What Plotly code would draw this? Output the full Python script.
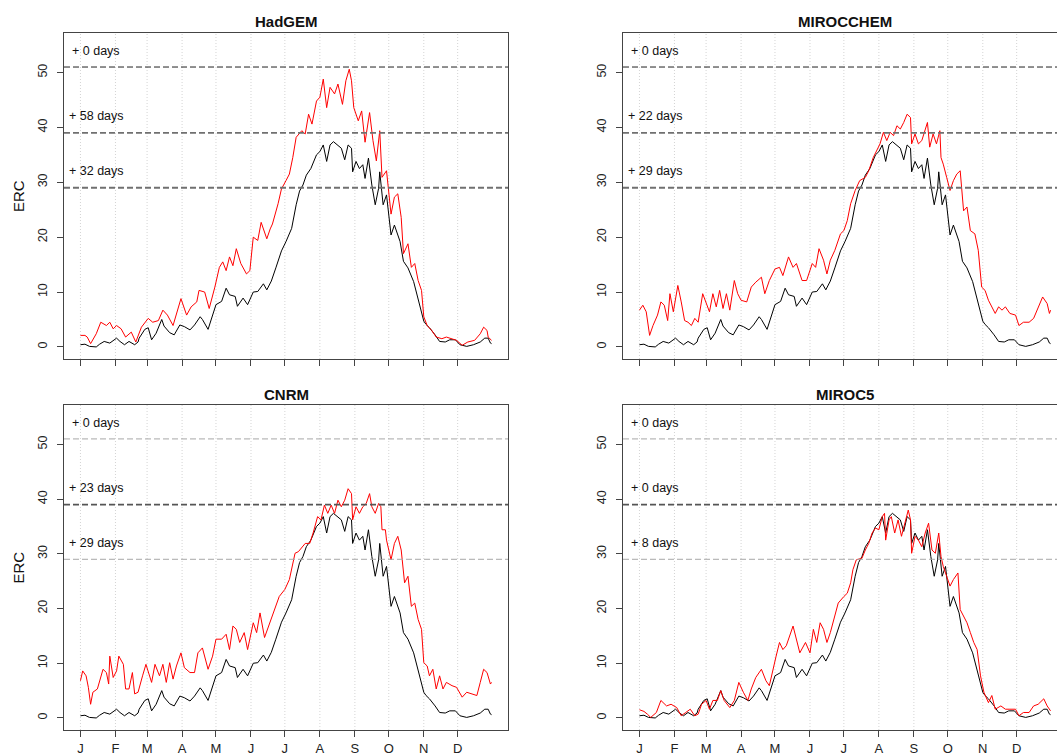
import plotly.graph_objects as go

# ---------------- data ----------------
month_labels = ["J", "F", "M", "A", "M", "J", "J", "A", "S", "O", "N", "D"]
month_start_days = [1, 32, 60, 91, 121, 152, 182, 213, 244, 274, 305, 335]
erc_ticks = [0, 10, 20, 30, 40, 50]
thresholds = [51, 39, 29]

# observed (historical) ERC, shared by all panels
obs_days = [1, 5, 9, 15, 18, 22, 27, 30, 33, 36, 40, 44, 49, 52, 53, 58, 61, 64, 68, 73,
            75, 80, 84, 89, 93, 98, 102, 107, 109, 114, 118, 121, 126, 130, 133, 138, 140, 145, 149, 154,
            158, 163, 166, 170, 174, 179, 183, 188, 192, 195, 198, 201, 205, 210, 213, 216, 219, 222, 225, 229,
            232, 235, 238, 241, 242, 245, 248, 251, 253, 256, 259, 262, 265, 266, 269, 272, 274, 276, 279, 284,
            287, 291, 296, 299, 302, 305, 307, 310, 315, 319, 324, 328, 333, 337, 343, 349, 355, 359, 362, 364,
            365]
obs_erc = [0.4, 0.5, 0.1, 0.0, 0.5, 1.0, 0.7, 1.2, 1.6, 1.0, 0.4, 1.0, 0.4, 0.9, 1.6, 3.2, 3.5, 1.3, 2.5, 5.0,
           3.8, 2.6, 2.2, 4.0, 3.7, 3.1, 4.0, 5.5, 5.0, 3.2, 5.9, 7.7, 8.3, 10.7, 9.5, 9.2, 7.4, 8.9, 7.7, 10.0,
           10.1, 11.5, 10.4, 12.0, 14.4, 17.5, 19.2, 21.6, 25.9, 28.4, 29.5, 31.3, 32.5, 35.0, 35.6, 36.8, 33.8, 36.8, 37.4, 36.8,
           36.2, 34.1, 36.8, 36.2, 31.9, 33.8, 32.5, 33.2, 30.7, 34.4, 29.5, 25.9, 28.9, 31.9, 25.9, 27.7, 23.5, 20.4, 22.2, 19.2,
           15.6, 14.4, 11.9, 9.5, 7.1, 4.7, 4.1, 3.5, 2.2, 1.0, 0.9, 1.3, 1.3, 0.4, 0.1, 0.4, 0.9, 1.6, 1.6, 0.7,
           0.6]

hadgem_days = [1, 5, 7, 10, 15, 19, 24, 27, 30, 33, 37, 41, 46, 50, 55, 61, 65, 70, 74, 78,
               83, 87, 90, 95, 99, 104, 106, 111, 115, 120, 124, 127, 130, 133, 136, 139, 143, 148, 151, 154,
               158, 161, 166, 169, 171, 176, 179, 183, 186, 189, 192, 197, 200, 203, 206, 210, 213, 216, 219, 222,
               226, 229, 233, 236, 239, 241, 243, 247, 250, 253, 257, 260, 263, 266, 268, 272, 276, 279, 282, 285,
               287, 291, 294, 297, 300, 303, 305, 308, 312, 316, 321, 325, 330, 334, 339, 344, 350, 355, 358, 361,
               362, 365]
hadgem_erc = [2.1, 2.1, 1.8, 0.6, 2.4, 4.5, 3.9, 4.5, 3.3, 3.9, 3.3, 1.8, 2.7, 0.9, 3.6, 5.2, 4.5, 4.8, 6.7, 5.8,
              3.9, 6.7, 8.8, 5.8, 7.3, 8.2, 10.3, 10.0, 7.0, 10.9, 14.5, 15.5, 13.9, 16.4, 14.8, 17.9, 15.2, 13.3, 13.9, 20.0,
              19.4, 22.7, 19.7, 21.5, 22.4, 26.1, 28.8, 30.3, 31.5, 34.5, 38.2, 39.4, 38.8, 42.4, 40.6, 44.8, 45.5, 48.8, 43.6, 47.3,
              46.1, 47.9, 44.2, 48.5, 50.6, 48.5, 43.6, 41.2, 43.0, 37.3, 42.7, 37.6, 33.9, 39.4, 30.9, 32.1, 24.2, 27.3, 27.9, 23.6,
              17.0, 18.8, 14.5, 15.2, 12.1, 10.3, 5.5, 3.9, 3.0, 1.8, 1.5, 1.8, 1.5, 1.2, 0.3, 0.9, 1.2, 2.4, 3.6, 3.0,
              1.8, 1.2]

mirocchem_days = [1, 4, 7, 10, 13, 17, 20, 23, 26, 28, 31, 33, 35, 38, 41, 44, 47, 50, 53, 57,
                  60, 63, 66, 69, 72, 75, 78, 81, 85, 88, 91, 96, 100, 104, 109, 112, 116, 121, 125, 128,
                  133, 137, 140, 145, 149, 154, 157, 160, 164, 167, 170, 174, 179, 182, 185, 188, 192, 196, 201, 204,
                  208, 211, 214, 217, 220, 223, 226, 229, 232, 235, 238, 241, 242, 245, 248, 251, 254, 256, 258, 261,
                  264, 267, 268, 270, 273, 276, 279, 282, 285, 288, 291, 294, 298, 301, 304, 307, 310, 313, 316, 319,
                  322, 325, 329, 334, 337, 341, 346, 350, 354, 358, 362, 364, 365]
mirocchem_erc = [6.7, 7.6, 6.4, 2.1, 3.9, 5.8, 8.2, 7.6, 4.8, 9.7, 6.4, 9.1, 11.2, 8.2, 4.8, 4.5, 3.9, 5.2, 4.5, 9.7,
                 8.2, 6.4, 9.7, 7.3, 10.3, 7.0, 9.7, 6.7, 12.1, 9.7, 8.5, 8.2, 10.9, 11.8, 12.7, 9.7, 12.1, 14.2, 14.5, 13.0,
                 16.4, 14.5, 15.2, 12.1, 12.1, 15.2, 14.5, 17.9, 15.8, 13.3, 15.8, 17.6, 20.6, 21.2, 23.0, 26.1, 28.5, 30.3, 30.9, 32.1,
                 34.5, 35.8, 37.0, 39.1, 37.6, 39.1, 38.5, 40.3, 39.7, 40.9, 42.4, 41.8, 37.0, 38.8, 37.0, 37.6, 39.7, 40.9, 36.4, 38.8,
                 37.0, 39.4, 34.5, 33.3, 30.9, 28.5, 30.3, 31.5, 32.1, 24.8, 25.5, 21.2, 20.6, 17.6, 10.9, 10.3, 8.5, 7.3, 6.1, 7.3,
                 6.7, 7.3, 6.1, 5.8, 3.9, 4.5, 4.5, 5.2, 7.3, 9.1, 7.9, 6.1, 6.7]

cnrm_days = [1, 3, 6, 8, 10, 12, 16, 21, 24, 26, 27, 30, 33, 35, 39, 41, 44, 47, 49, 52,
             56, 59, 64, 67, 71, 74, 77, 80, 83, 86, 90, 93, 98, 102, 105, 109, 114, 118, 121, 126,
             130, 133, 136, 139, 142, 146, 149, 154, 157, 160, 164, 169, 173, 177, 182, 186, 191, 194, 200, 204,
             207, 211, 214, 217, 220, 223, 226, 229, 232, 235, 238, 241, 242, 245, 248, 251, 254, 257, 259, 262,
             265, 267, 268, 271, 272, 276, 279, 282, 285, 288, 291, 294, 297, 300, 303, 305, 308, 310, 313, 316,
             319, 322, 325, 330, 334, 339, 343, 347, 352, 355, 358, 361, 364, 365]
cnrm_erc = [6.8, 8.6, 7.7, 5.6, 2.5, 4.7, 5.3, 8.9, 8.3, 6.2, 11.3, 7.4, 8.6, 11.3, 9.8, 5.3, 5.3, 8.3, 4.4, 4.7,
            7.7, 9.8, 6.5, 9.8, 7.7, 9.8, 6.5, 10.1, 7.1, 9.5, 11.9, 9.2, 8.3, 8.3, 11.9, 12.8, 8.9, 11.3, 14.4, 14.4,
            15.3, 12.5, 16.8, 16.2, 13.8, 15.6, 12.5, 17.4, 15.6, 19.2, 14.7, 17.7, 19.8, 22.2, 23.5, 25.3, 30.1, 30.4, 31.9, 31.9,
            33.8, 36.8, 36.2, 38.9, 37.4, 38.9, 37.4, 39.8, 38.6, 39.8, 41.9, 41.0, 36.2, 38.6, 37.4, 38.6, 39.2, 41.0, 38.6, 37.4,
            39.2, 38.6, 34.4, 34.4, 32.5, 28.9, 31.9, 33.2, 30.7, 24.7, 25.9, 20.4, 21.0, 18.0, 16.2, 10.1, 9.5, 7.7, 8.9, 5.3,
            7.7, 5.3, 6.5, 5.9, 5.6, 3.8, 4.7, 4.4, 4.1, 6.5, 8.9, 8.3, 6.2, 6.5]

miroc5_days = [1, 5, 8, 11, 16, 20, 25, 29, 34, 38, 42, 46, 50, 53, 56, 60, 63, 66, 70, 73,
               76, 81, 85, 89, 93, 97, 100, 104, 109, 113, 116, 119, 122, 125, 128, 131, 134, 137, 143, 148,
               152, 155, 158, 161, 164, 167, 170, 173, 177, 182, 185, 188, 190, 193, 198, 201, 204, 207, 210, 213,
               216, 218, 219, 222, 224, 227, 230, 233, 236, 239, 241, 242, 245, 248, 251, 254, 257, 260, 263, 266,
               268, 270, 273, 276, 279, 283, 285, 288, 291, 294, 297, 300, 303, 306, 310, 313, 316, 321, 325, 329,
               334, 337, 341, 346, 350, 354, 359, 362, 365]
miroc5_erc = [1.5, 1.2, 0.7, 0.1, 1.0, 3.2, 2.2, 2.5, 1.9, 0.4, 1.0, 1.6, 0.4, 0.7, 2.5, 3.2, 1.6, 3.2, 3.2, 5.0,
              3.2, 1.9, 3.2, 6.5, 4.7, 3.2, 5.3, 7.4, 8.9, 6.8, 5.9, 8.9, 11.3, 13.8, 12.5, 13.2, 15.0, 16.8, 11.9, 13.8,
              11.9, 16.2, 13.8, 17.4, 16.2, 13.8, 15.6, 18.0, 21.0, 22.2, 22.8, 24.7, 27.1, 28.9, 29.2, 30.7, 31.9, 33.8, 34.7, 34.4,
              36.8, 37.4, 32.5, 36.2, 36.8, 33.8, 36.2, 33.2, 35.6, 38.0, 36.2, 30.1, 33.2, 32.5, 31.3, 33.8, 35.6, 30.7, 30.1, 33.8,
              29.5, 27.7, 25.9, 24.1, 25.3, 26.5, 19.8, 18.6, 17.4, 15.6, 13.8, 12.5, 7.7, 4.7, 2.8, 4.1, 1.6, 2.2, 1.6, 1.6,
              1.6, 0.4, 1.0, 1.0, 2.2, 2.5, 3.5, 2.2, 1.3]

# extra days above each threshold (51, 39, 29)
hadgem_gain = [0, 58, 32]
mirocchem_gain = [0, 22, 29]
cnrm_gain = [0, 23, 29]
miroc5_gain = [0, 0, 8]

model_names = ["HadGEM", "MIROCCHEM", "CNRM", "MIROC5"]

# ---------------- layout helpers ----------------
W, H = 1057, 756
FONT = "Liberation Sans, Arial, sans-serif"


def px_x(p):
    return p / W


def px_y(p):
    return 1 - p / H


# panel boxes in pixels: (left, right, top, bottom)
boxes = [(64, 508, 33, 359), (623, 1057, 33, 359), (64, 508, 405, 730), (623, 1057, 405, 730)]
x_full = [-13.56, 379.56]
x_cut = [-13.56, -13.56 + (1057 - 623) / (444 / 393.12)]
y_range = [-2.2, 57.2]

# threshold-line styles: top row / bottom row
line_styles_top = [dict(color="#222222", width=1), dict(color="#707070", width=1.8), dict(color="#707070", width=1.8)]
line_styles_bot = [dict(color="#a8a8a8", width=1), dict(color="#555555", width=1.8), dict(color="#a8a8a8", width=1)]

series = [(hadgem_days, hadgem_erc, hadgem_gain),
          (mirocchem_days, mirocchem_erc, mirocchem_gain),
          (cnrm_days, cnrm_erc, cnrm_gain),
          (miroc5_days, miroc5_erc, miroc5_gain)]

fig = go.Figure()
shapes = []
annotations = []
layout_axes = {}

for i, (name, (days, erc, gain), box) in enumerate(zip(model_names, series, boxes)):
    n = i + 1
    xa = "x" if n == 1 else f"x{n}"
    ya = "y" if n == 1 else f"y{n}"
    left, right, top, bottom = box
    is_left = i % 2 == 0
    is_bottom = i >= 2

    fig.add_trace(go.Scatter(x=obs_days, y=obs_erc, mode="lines", xaxis=xa, yaxis=ya,
                             line=dict(color="black", width=1), showlegend=False, hoverinfo="skip"))
    fig.add_trace(go.Scatter(x=days, y=erc, mode="lines", xaxis=xa, yaxis=ya,
                             line=dict(color="#ff0000", width=1), showlegend=False, hoverinfo="skip"))

    layout_axes["xaxis" if n == 1 else f"xaxis{n}"] = dict(
        domain=[px_x(left), min(1.0, px_x(right))],
        range=x_full if is_left else x_cut,
        anchor=ya, tickmode="array", tickvals=month_start_days, ticktext=month_labels,
        showticklabels=is_bottom, ticks="outside", ticklen=6, tickwidth=1, tickcolor="#444",
        showline=True, linecolor="#444", linewidth=1, mirror=True,
        showgrid=False, zeroline=False,
        tickfont=dict(family=FONT, size=13, color="#222"),
    )
    layout_axes["yaxis" if n == 1 else f"yaxis{n}"] = dict(
        domain=[px_y(bottom), px_y(top)], range=y_range, anchor=xa,
        tickmode="array", tickvals=erc_ticks, tickangle=-90,
        ticks="outside", ticklen=6, tickwidth=1, tickcolor="#444",
        showline=True, linecolor="#444", linewidth=1, mirror=is_left,
        showgrid=False, zeroline=False, ticklabelstandoff=5,
        tickfont=dict(family=FONT, size=12.5, color="#222"),
    )

    # month grid (dotted)
    for d in month_start_days:
        shapes.append(dict(type="line", xref=xa, yref=f"{ya} domain", x0=d, x1=d, y0=0, y1=1,
                           line=dict(color="#d4d4d4", width=1, dash="1px,2px"), layer="below"))
    # threshold lines and labels
    styles = line_styles_bot if is_bottom else line_styles_top
    for t, g, st in zip(thresholds, gain, styles):
        shapes.append(dict(type="line", xref=f"{xa} domain", yref=ya, x0=0, x1=1, y0=t, y1=t,
                           line=dict(color=st["color"], width=st["width"], dash="6px,3px"), layer="above"))
        annotations.append(dict(xref=xa, yref=ya, x=15, y=t + 3, text=f"+ {g} days", showarrow=False,
                                xanchor="center", yanchor="middle",
                                font=dict(family=FONT, size=12.5, color="#111")))
    # panel title
    annotations.append(dict(xref="paper", yref="paper", x=px_x((left + left + 444) / 2),
                            y=px_y(top - 11), text=f"<b>{name}</b>", showarrow=False,
                            xanchor="center", yanchor="middle",
                            font=dict(family=FONT, size=15, color="#111")))
    if is_left:
        annotations.append(dict(xref="paper", yref="paper", x=px_x(18), y=px_y((top + bottom) / 2),
                                text="ERC", textangle=-90, showarrow=False,
                                xanchor="center", yanchor="middle",
                                font=dict(family=FONT, size=15, color="#111")))

fig.update_layout(
    width=W, height=H, margin=dict(l=0, r=0, t=0, b=0),
    paper_bgcolor="white", plot_bgcolor="white",
    shapes=shapes, annotations=annotations, showlegend=False,
    **layout_axes,
)

fig.write_html("out.html")
